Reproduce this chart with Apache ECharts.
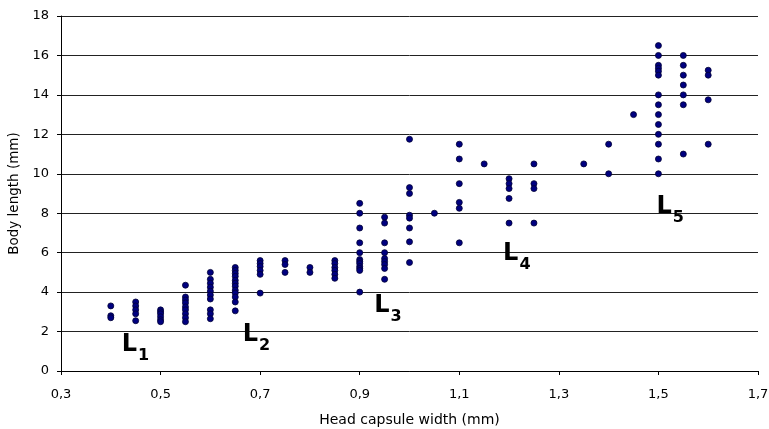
<!DOCTYPE html>
<html>
<head>
<meta charset="utf-8">
<script src="https://cdn.jsdelivr.net/npm/echarts@6/dist/echarts.min.js"></script>
<style>html,body{margin:0;padding:0;background:#fff}#c{width:769px;height:429px}</style>
</head>
<body>
<div id="c"></div>
<script>
// Head capsule width classes (mm)
const widths = [0.4, 0.45, 0.5, 0.55, 0.6, 0.65, 0.7, 0.75, 0.8, 0.85, 0.9, 0.95, 1.0, 1.05, 1.1, 1.15, 1.2, 1.25, 1.35, 1.4, 1.45, 1.5, 1.55, 1.6];
// Body lengths (mm) observed for each width class
const lengths = [
  [3.3, 2.8, 2.7],
  [3.5, 3.3, 3.1, 2.9, 2.55],
  [3.1, 3.0, 2.9, 2.75, 2.6, 2.5],
  [4.35, 3.75, 3.6, 3.45, 3.25, 3.1, 2.9, 2.7, 2.5],
  [5.0, 4.65, 4.45, 4.25, 4.05, 3.85, 3.65, 3.1, 2.9, 2.65],
  [5.25, 5.1, 4.95, 4.8, 4.6, 4.45, 4.3, 4.1, 3.95, 3.75, 3.5, 3.05],
  [5.6, 5.45, 5.3, 5.1, 4.9, 3.95],
  [5.6, 5.4, 5.0],
  [5.25, 5.0],
  [5.6, 5.45, 5.25, 5.1, 4.9, 4.7],
  [8.5, 8.0, 7.25, 6.5, 6.0, 5.65, 5.55, 5.45, 5.3, 5.2, 5.1, 4.0],
  [7.8, 7.5, 6.5, 6.0, 5.7, 5.55, 5.4, 5.2, 4.65],
  [11.75, 9.3, 9.0, 7.9, 7.75, 7.25, 6.55, 5.5],
  [8.0],
  [11.5, 10.75, 9.5, 8.55, 8.25, 6.5],
  [10.5],
  [9.75, 9.5, 9.25, 8.75, 7.5],
  [10.5, 9.5, 9.25, 7.5],
  [10.5],
  [11.5, 10.0],
  [13.0],
  [16.5, 16.0, 15.5, 15.35, 15.2, 15.0, 14.0, 13.5, 13.0, 12.5, 12.0, 11.5, 10.75, 10.0],
  [16.0, 15.5, 15.0, 14.5, 14.0, 13.5, 11.0],
  [15.25, 15.0, 13.75, 11.5]
];
// Larval instar names
const instars = ['1', '2', '3', '4', '5'];
// Axis ticks
const xMin = 0.3, xMax = 1.7, xStep = 0.2;
const yMin = 0, yMax = 18, yStep = 2;

const points = [];
widths.forEach((w, i) => lengths[i].forEach(v => points.push([w, v])));

// annotation anchors (top-left of label) in data coordinates
const labelAnchors = [[0.422, 1.95], [0.665, 2.45], [0.929, 3.9], [1.188, 6.55], [1.496, 8.93]];
const labelData = instars.map((n, i) => ({ value: labelAnchors[i], name: n }));

const FONT = 'DejaVu Sans';
const chart = echarts.init(document.getElementById('c'), null, { renderer: 'canvas' });
chart.setOption({
  animation: false,
  backgroundColor: '#fff',
  grid: { left: 61, right: 11, top: 16, bottom: 58, containLabel: false, outerBoundsMode: 'none' },
  xAxis: {
    type: 'value', min: xMin, max: xMax, interval: xStep,
    name: 'Head capsule width (mm)', nameLocation: 'middle', nameGap: 42,
    nameTextStyle: { fontFamily: FONT, fontSize: 14, color: '#000' },
    axisLine: { lineStyle: { color: '#000', width: 1 } },
    axisTick: { show: true, inside: false, length: 4, lineStyle: { color: '#000' } },
    axisLabel: { fontFamily: FONT, fontSize: 13, color: '#000', margin: 17,
      formatter: v => v.toFixed(1).replace('.', ',') },
    splitLine: { show: false }
  },
  yAxis: {
    type: 'value', min: yMin, max: yMax, interval: yStep,
    name: 'Body length (mm)', nameLocation: 'middle', nameGap: 32, nameRotate: 90,
    nameTextStyle: { fontFamily: FONT, fontSize: 13.5, color: '#000' },
    axisLine: { show: true, lineStyle: { color: '#000', width: 1 } },
    axisTick: { show: true, inside: false, length: 4, lineStyle: { color: '#000' } },
    axisLabel: { fontFamily: FONT, fontSize: 13, color: '#000', margin: 12 },
    splitLine: { show: true, lineStyle: { color: '#222', width: 1 } }
  },
  series: [
    {
      type: 'scatter',
      data: points,
      symbol: 'circle',
      symbolSize: 6,
      itemStyle: { color: '#000080', borderColor: '#000033', borderWidth: 0.8, opacity: 1 },
      z: 3
    },
    {
      type: 'scatter',
      data: labelData,
      symbolSize: 0,
      silent: true,
      label: {
        show: true, position: [0, 0], align: 'left', verticalAlign: 'top',
        color: '#000', opacity: 1,
        formatter: p => '{a|L}{b|' + p.name + '}',
        rich: {
          a: { fontFamily: FONT, fontSize: 24, fontWeight: 'bold', color: '#000', lineHeight: 26, verticalAlign: 'top' },
          b: { fontFamily: FONT, fontSize: 16, fontWeight: 'bold', color: '#000', padding: [15, 0, 0, 1], verticalAlign: 'top' }
        }
      },
      labelLayout: { hideOverlap: false },
      z: 4
    }
  ]
});
</script>
</body>
</html>
